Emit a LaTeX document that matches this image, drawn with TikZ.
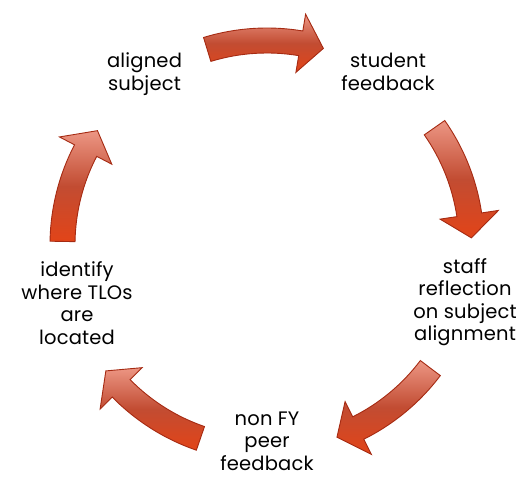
\documentclass[tikz,border=0pt]{standalone}
\usepackage{fontspec}
\setmainfont{Poppins}[LetterSpace=1]
\usetikzlibrary{positioning}
\definecolor{arrowtop}{RGB}{236,150,132}
\definecolor{arrowmid}{RGB}{194,76,50}
\definecolor{arrowbot}{RGB}{226,68,24}
\definecolor{arrowline}{RGB}{165,42,18}
\begin{document}
\begin{tikzpicture}[x=1pt,y=1pt,
  cycletext/.style={align=center, font=\fontsize{19.5}{22.5}\selectfont, inner sep=0pt},
  cyclearrow/.style={draw=arrowline, line width=0.9pt, top color=arrowtop, bottom color=arrowbot, middle color=arrowmid}]
\useasboundingbox (0,0) rectangle (518,477);
\coordinate (C) at (267,232);

%Nodes
\node (aligned) at (144.5,403) [cycletext] {aligned\\subject};
\node (student) at (388,405) [cycletext] {student\\feedback};
\node (staff) at (465,175) [cycletext] {staff\\reflection\\on subject\\alignment};
\node (peer) at (267,36) [cycletext] {non FY\\peer\\feedback};
\node (identify) at (77,174) [cycletext] {identify\\where TLOs\\are\\located};

%Arrows
\foreach \m in {90,18,-54,-126,162}
  \draw[cyclearrow, shift={(C)}] (\m+17:217) arc[start angle=\m+17, end angle=\m-9.5, radius=217]
    -- (\m-9.5:234) -- (\m-16:204.5) -- (\m-9.5:175) -- (\m-9.5:192)
    arc[start angle=\m-9.5, end angle=\m+17, radius=192] -- cycle;

\end{tikzpicture}
\end{document}
